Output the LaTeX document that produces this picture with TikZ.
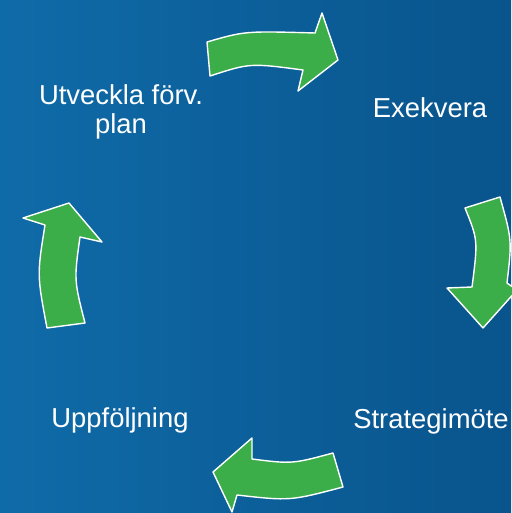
\documentclass[tikz,border=0pt]{standalone}
\usepackage{fontspec}
\setmainfont{Liberation Sans}
\usepackage{xcolor}
\usetikzlibrary{positioning}
\definecolor{bgleft}{RGB}{15,107,168}
\definecolor{bgright}{RGB}{9,84,140}
\definecolor{cyclegreen}{RGB}{59,174,74}

\begin{document}
\begin{tikzpicture}[x=0.02cm,y=-0.02cm,
        cyclearrow/.style={fill=cyclegreen,draw=white,line width=0.8pt,line join=round},
        phase/.style={text=white,font=\fontsize{15.6}{16}\selectfont,inner sep=0pt,anchor=base}]
        \shade[left color=bgleft,right color=bgright] (0,0) rectangle (511,513);
        \useasboundingbox (0,0) rectangle (511,513);
        \draw[cyclearrow] (207,42) .. controls (245,31) .. (315,33) -- (322,13) -- (338,60) -- (298,91) -- (303,70) .. controls (250,63) .. (210,76) -- cycle;
        \draw[cyclearrow] (465,208) -- (500,197) .. controls (512,240) .. (507,283) -- (517,290) -- (483,328) -- (447,288) -- (472,287) .. controls (478,240) .. (465,208) -- cycle;
        \draw[cyclearrow] (333,453) -- (343,487) .. controls (290,501) .. (237,495) -- (232,512) -- (213,472) -- (252,438) -- (252,459) .. controls (292,464) .. (333,453) -- cycle;
        \draw[cyclearrow] (47,328) -- (85,323) .. controls (74,280) .. (80,237) -- (102,242) -- (69,203) -- (23,218) -- (45,225) .. controls (37,275) .. (47,328) -- cycle;
        \node[phase,align=center] (plan) at (121,133) {Utveckla förv.\\plan};
        \node[phase] (exec) at (430,118) {Exekvera};
        \node[phase] (meet) at (431,428) {Strategimöte};
        \node[phase] (follow) at (120,427) {Uppföljning};
    \end{tikzpicture}
\end{document}
